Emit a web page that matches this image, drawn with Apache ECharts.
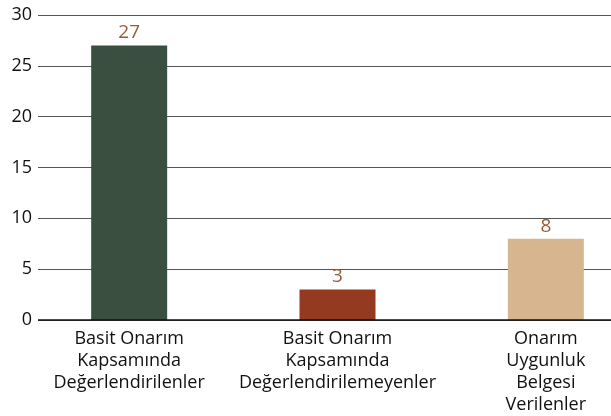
<!DOCTYPE html>
<html>
<head>
<meta charset="utf-8">
<script src="https://cdn.jsdelivr.net/npm/echarts@6/dist/echarts.min.js"></script>
<style>
  html, body { margin: 0; padding: 0; background: #fff; }
  #chart { width: 611px; height: 416px; }
</style>
</head>
<body>
<div id="chart"></div>
<script>
// Kategoriler ve değerler
const categories = [
  'Basit Onarım\nKapsamında\nDeğerlendirilenler',
  'Basit Onarım\nKapsamında\nDeğerlendirilemeyenler',
  'Onarım\nUygunluk\nBelgesi\nVerilenler'
];
const values = [27, 3, 8];
const barColors = ['#3a4f3f', '#943a20', '#d6b58f'];
const yTicks = { min: 0, max: 30, interval: 5 };

const FONT = '"Open Sans"';

const chart = echarts.init(document.getElementById('chart'), null, { renderer: 'canvas' });

chart.setOption({
  animation: false,
  textStyle: { fontFamily: FONT },
  grid: [
    // grid for the value axis and horizontal guide lines
    { left: 38, right: 0, top: 15, bottom: 96, containLabel: false, outerBoundsMode: 'none' },
    // grid for the bars and category labels (extends past the right edge)
    { left: 25, width: 625, top: 15, bottom: 96, containLabel: false, outerBoundsMode: 'none' }
  ],
  xAxis: [
    { type: 'category', gridIndex: 0, data: categories, show: false },
    {
      type: 'category', gridIndex: 1, data: categories,
      axisLine: { show: false },
      axisTick: { show: false },
      axisLabel: {
        interval: 0, color: '#111', fontSize: 18, lineHeight: 22,
        margin: 8, fontFamily: FONT
      }
    }
  ],
  yAxis: [
    {
      type: 'value', gridIndex: 0,
      min: yTicks.min, max: yTicks.max, interval: yTicks.interval,
      axisLine: { show: false },
      axisTick: { show: false },
      axisLabel: { color: '#111', fontSize: 18, margin: 6, fontFamily: FONT },
      splitLine: { lineStyle: { color: '#555', width: 1.2 } }
    },
    {
      type: 'value', gridIndex: 1,
      min: yTicks.min, max: yTicks.max, interval: yTicks.interval,
      show: false
    }
  ],
  series: [
    {
      type: 'bar',
      xAxisIndex: 1, yAxisIndex: 1,
      barWidth: 76,
      data: values.map((v, i) => ({ value: v, itemStyle: { color: barColors[i] } })),
      label: {
        show: true, position: 'top', distance: 3,
        color: '#9b5a36', fontSize: 19, fontFamily: FONT
      },
      z: 3
    },
    {
      // baseline along zero
      type: 'line',
      xAxisIndex: 0, yAxisIndex: 0,
      data: [],
      markLine: {
        silent: true, symbol: 'none', label: { show: false },
        lineStyle: { color: '#111', width: 1.5, type: 'solid' },
        data: [{ yAxis: 0 }]
      },
      z: 4
    }
  ]
});
</script>
</body>
</html>
